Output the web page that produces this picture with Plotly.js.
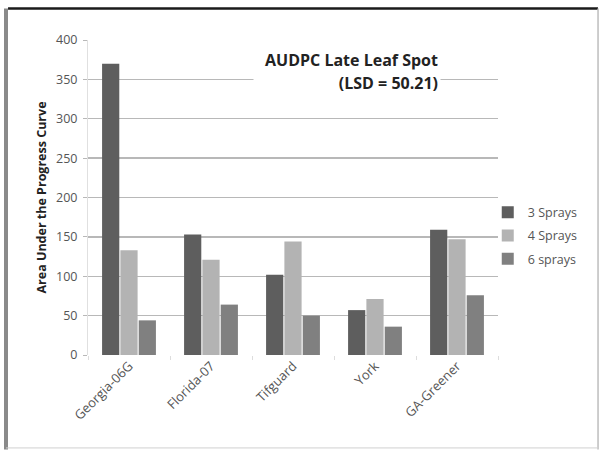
<!DOCTYPE html>
<html>
<head>
<meta charset="utf-8">
<script src="https://cdn.plot.ly/plotly-3.0.1.min.js"></script>
<style>
  html, body { margin: 0; padding: 0; background: #ffffff; overflow: hidden; }
  #chart { width: 600px; height: 450px; }
</style>
</head>
<body>
<div id="chart"></div>
<script>
// Peanut cultivars and AUDPC (late leaf spot) by number of fungicide sprays
const cultivars = ["Georgia-06G", "Florida-07", "Tifguard", "York", "GA-Greener"];
const sprays3 = [370, 153, 102, 57, 159];
const sprays4 = [133, 121, 144, 71, 147];
const sprays6 = [44, 64, 50, 36, 76];
const seriesNames = ["3 Sprays", "4 Sprays", "6 sprays"];
const seriesColors = ["#5e5e5e", "#b3b3b3", "#808080"];
const yTicks = [0, 50, 100, 150, 200, 250, 300, 350, 400];
const titleLines = ["AUDPC Late Leaf Spot", "(LSD = 50.21)"];

const font = "'Open Sans', 'Noto Sans', sans-serif";
const values = [sprays3, sprays4, sprays6];

const traces = values.map((v, i) => ({
  type: "bar",
  name: seriesNames[i],
  x: cultivars,
  y: v,
  legendgroup: "g" + i,
  marker: { color: seriesColors[i], line: { width: 0 } },
  hoverinfo: "skip"
}));

// chart title drawn as two stacked text boxes with a white backing
const titleY = [0.937, 0.862];
const titleAnnotations = titleLines.map((t, i) => ({
  xref: "paper", yref: "paper",
  x: 0.862, y: titleY[i], xanchor: "right", yanchor: "middle",
  text: "<b>" + t + "</b>",
  width: 182,
  align: "right",
  showarrow: false,
  bgcolor: "#ffffff",
  borderpad: 2,
  font: { family: font, size: 16, color: "#222222" }
}));

const layout = {
  width: 600,
  height: 450,
  margin: { l: 88, r: 102, t: 40, b: 95 },
  paper_bgcolor: "#ffffff",
  plot_bgcolor: "#ffffff",
  barmode: "group",
  bargap: 0.33,
  bargroupgap: 0.06,
  showlegend: true,
  legend: {
    x: 0.975, y: 0.5, xanchor: "left", yanchor: "top",
    font: { family: font, size: 12.5, color: "#555555" },
    tracegroupgap: 4,
    itemwidth: 30,
    bgcolor: "rgba(0,0,0,0)"
  },
  xaxis: {
    type: "category",
    tickangle: -45,
    tickfont: { family: font, size: 13, color: "#555555" },
    showgrid: false,
    showline: false,
    ticks: "outside",
    ticklen: 4,
    tickcolor: "#dddddd",
    tickson: "boundaries",
    zeroline: false,
    automargin: false
  },
  yaxis: {
    range: [0, 400],
    tickvals: yTicks,
    ticktext: yTicks.map(String),
    tickfont: { family: font, size: 12.5, color: "#555555" },
    showgrid: true,
    gridcolor: "#b8b8b8",
    gridwidth: 1.3,
    showline: true,
    linecolor: "#e0e0e0",
    linewidth: 1,
    ticks: "outside",
    ticklen: 4,
    tickcolor: "#b8b8b8",
    ticklabelstandoff: 3,
    zeroline: false,
    automargin: false,
    title: {
      text: "Area Under the Progress Curve",
      font: { family: font, size: 12.5, color: "#222222", weight: "bold" },
      standoff: 6
    }
  },
  annotations: titleAnnotations,
  shapes: [
    // outer frame around the chart
    { type: "line", xref: "paper", yref: "paper", x0: -0.195, x1: 1.244, y0: 1.1, y1: 1.1,
      line: { color: "#1a1a1a", width: 2.5 } },
    { type: "line", xref: "paper", yref: "paper", x0: -0.2, x1: -0.2, y0: -0.3, y1: 1.1,
      line: { color: "#8a8a8a", width: 4 } },
    { type: "line", xref: "paper", yref: "paper", x0: 1.244, x1: 1.244, y0: -0.3, y1: 1.1,
      line: { color: "#bdbdbd", width: 1.5 } },
    { type: "line", xref: "paper", yref: "paper", x0: -0.2, x1: 1.244, y0: -0.295, y1: -0.295,
      line: { color: "#d0d0d0", width: 1 } }
  ]
};

Plotly.newPlot("chart", traces, layout, { displayModeBar: false, staticPlot: true });
</script>
</body>
</html>
